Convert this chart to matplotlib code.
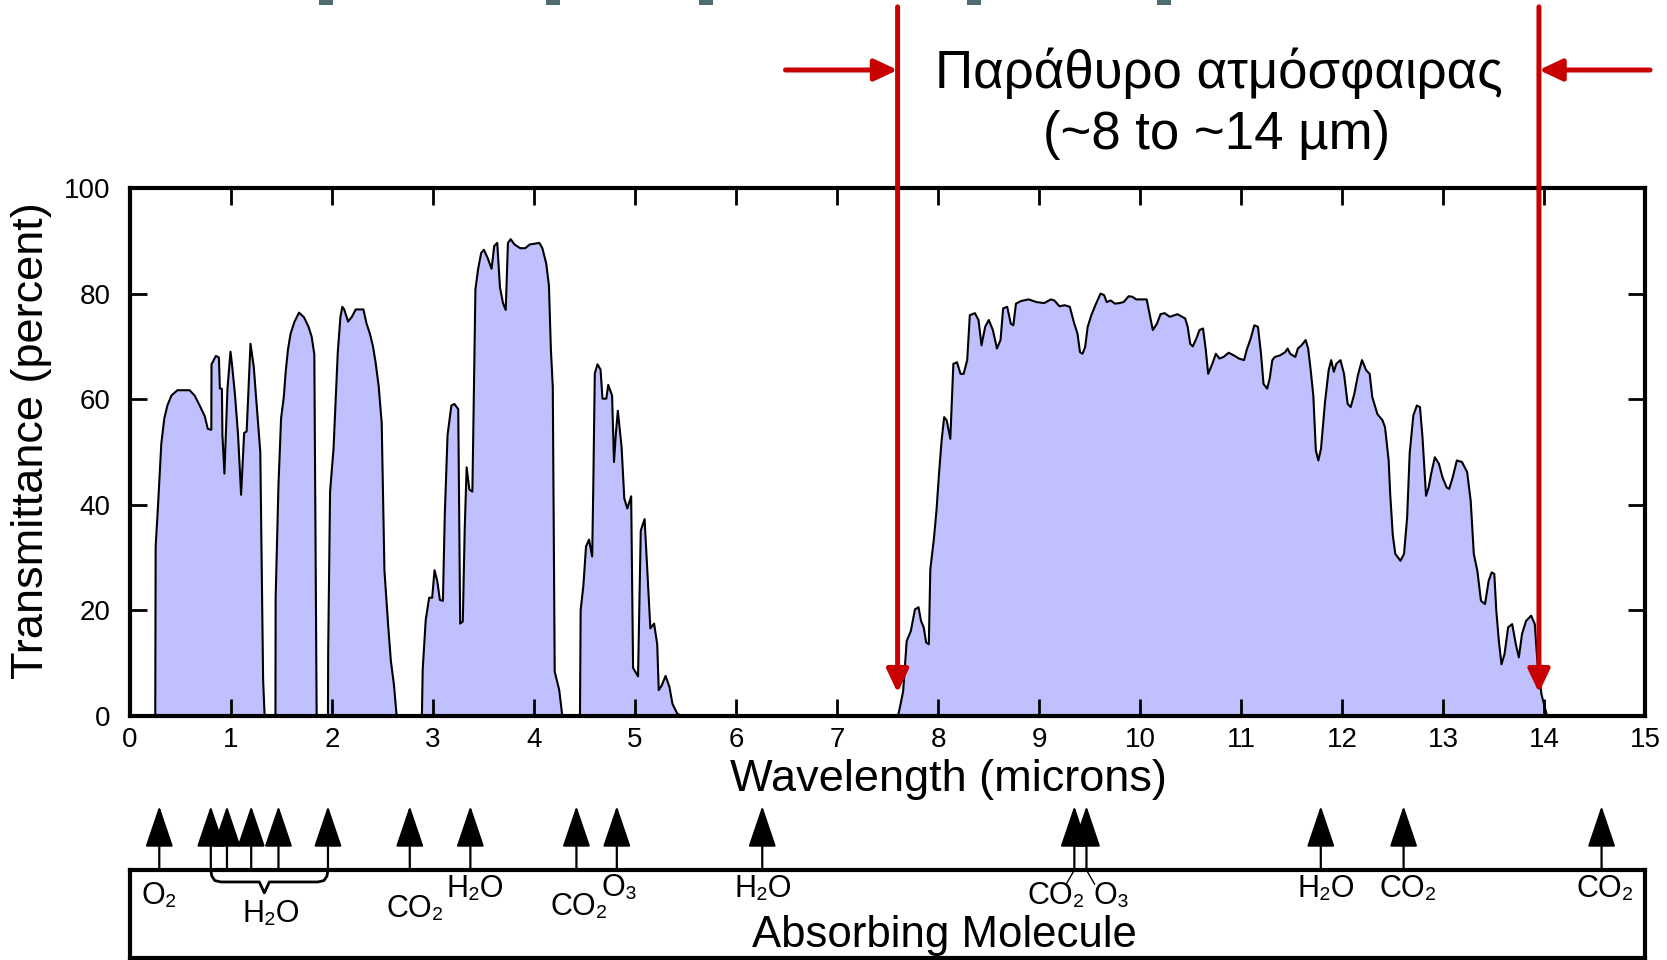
import matplotlib
matplotlib.use('Agg')
import matplotlib.pyplot as plt
from matplotlib.patches import Rectangle

plt.rcParams['font.family'] = ['Liberation Sans', 'DejaVu Sans']

# Atmospheric transmittance spectrum
wavelength = [
    0.0, 0.25, 0.254, 0.277, 0.31, 0.34, 0.37, 0.41, 0.47, 0.59, 0.64, 0.69, 0.74, 0.77, 0.805,
    0.807, 0.85, 0.88, 0.89, 0.91, 0.915, 0.935, 0.965, 0.995, 1.01, 1.04, 1.07, 1.10, 1.13,
    1.155, 1.175, 1.193, 1.225, 1.26, 1.29, 1.318, 1.333,
    1.44, 1.442, 1.47, 1.496, 1.523, 1.542, 1.564, 1.59, 1.629, 1.674, 1.723, 1.768, 1.799,
    1.825, 1.848,
    1.96, 1.962, 1.981, 2.015, 2.057, 2.083, 2.102, 2.121, 2.159, 2.197, 2.235, 2.311, 2.341,
    2.375, 2.405, 2.432, 2.462, 2.492, 2.519, 2.557, 2.583, 2.614, 2.64,
    2.89, 2.898, 2.928, 2.962, 2.992, 3.015, 3.042, 3.068, 3.098, 3.117, 3.144, 3.182, 3.212,
    3.25, 3.269, 3.295, 3.314, 3.333, 3.36, 3.39, 3.42, 3.447, 3.477, 3.504, 3.542, 3.58,
    3.606, 3.636, 3.663, 3.693, 3.72, 3.742, 3.769, 3.807, 3.864, 3.913, 3.958, 4.053, 4.083,
    4.121, 4.148, 4.167, 4.186, 4.205, 4.25, 4.28,
    4.455, 4.462, 4.489, 4.515, 4.545, 4.576, 4.587, 4.602, 4.629, 4.659, 4.678, 4.716, 4.735,
    4.773, 4.792, 4.811, 4.83, 4.867, 4.894, 4.924, 4.962, 4.981, 5.03, 5.057, 5.095, 5.125,
    5.152, 5.189, 5.22, 5.235, 5.265, 5.303, 5.341, 5.371, 5.417, 5.455,
    7.604, 7.629, 7.655, 7.69, 7.731, 7.772, 7.807, 7.832, 7.858, 7.883, 7.909, 7.924, 7.959,
    7.985, 8.01, 8.036, 8.061, 8.086, 8.122, 8.152, 8.188, 8.223, 8.254, 8.289, 8.315, 8.365,
    8.401, 8.431, 8.467, 8.503, 8.543, 8.584, 8.619, 8.645, 8.685, 8.721, 8.746, 8.772, 8.822,
    8.898, 8.975, 9.051, 9.117, 9.152, 9.203, 9.254, 9.305, 9.345, 9.381, 9.406, 9.431, 9.457,
    9.482, 9.518, 9.558, 9.609, 9.645, 9.67, 9.711, 9.751, 9.797, 9.838, 9.888, 9.924, 9.964,
    10.066, 10.091, 10.127, 10.168, 10.203, 10.244, 10.294, 10.371, 10.447, 10.472, 10.497,
    10.523, 10.558, 10.589, 10.624, 10.65, 10.675, 10.716, 10.751, 10.787, 10.827, 10.878,
    10.929, 10.98, 11.03, 11.056, 11.096, 11.132, 11.168, 11.198, 11.223, 11.259, 11.284,
    11.31, 11.335, 11.386, 11.437, 11.462, 11.487, 11.538, 11.563, 11.599, 11.64, 11.665,
    11.69, 11.716, 11.741, 11.766, 11.792, 11.832, 11.868, 11.893, 11.919, 11.944, 11.985,
    12.02, 12.056, 12.086, 12.122, 12.157, 12.198, 12.239, 12.274, 12.3, 12.35, 12.401, 12.426,
    12.462, 12.477, 12.503, 12.528, 12.579, 12.614, 12.645, 12.67, 12.706, 12.741, 12.772,
    12.797, 12.832, 12.858, 12.883, 12.919, 12.959, 12.995, 13.036, 13.061, 13.096, 13.137,
    13.188, 13.239, 13.274, 13.305, 13.34, 13.376, 13.416, 13.452, 13.482, 13.508, 13.528,
    13.553, 13.579, 13.609, 13.645, 13.685, 13.721, 13.751, 13.782, 13.822, 13.873, 13.909,
    13.934, 13.975, 14.0, 14.025, 14.03, 15.0,
]
transmittance = [
    0, 0, 32.1, 39.7, 51.6, 56.4, 58.8, 60.7, 61.7, 61.7, 60.7, 58.8, 56.8, 54.4, 54.2,
    66.6, 68.2, 67.9, 62, 62, 53.2, 45.9, 62, 69, 66.6, 60.7, 53.2, 41.9, 53.6,
    53.9, 62.5, 70.5, 66.2, 57.5, 50, 6.8, 0,
    0, 22.4, 43.8, 56.4, 60.5, 65.3, 69.4, 72.4, 74.7, 76.4, 75.5, 73.7, 71.8,
    68.5, 0,
    0, 12.1, 42.5, 50.6, 68.8, 75.5, 77.5, 77, 74.7, 75.6, 77, 77, 74.4,
    72.4, 70.1, 66.9, 62.5, 55.5, 27.6, 16.9, 10.4, 5.8, 0,
    0, 8.8, 18.2, 22.4, 22.4, 27.6, 25.6, 22, 21.8, 38.3, 53.2, 58.8, 59.1,
    58.1, 17.5, 17.9, 35.4, 47.1, 42.9, 42.5, 80.8, 84.7, 87.7, 88.3, 86.7, 84.7,
    89, 89.6, 81.2, 78.2, 76.9, 89.6, 90.3, 89.3, 88.6, 88.6, 89.3, 89.6, 88.6,
    85.7, 81.5, 69.5, 62.3, 8.4, 4.9, 0,
    0, 20.1, 24.7, 32.1, 33.4, 30.2, 43.5, 64.9, 66.6, 65.6, 60.1, 60.1, 62.7,
    60.7, 48.1, 53.6, 57.8, 51, 41.2, 39.3, 41.6, 9.1, 7.5, 35.1, 37.3, 26.3,
    16.6, 17.5, 13.6, 4.9, 5.8, 7.6, 5.5, 2.3, 0.5, 0,
    0, 2.2, 4.7, 14.2, 16.1, 20.2, 20.6, 18, 16.8, 13.9, 13.6, 27.8, 33.5,
    38.9, 45.9, 52.2, 56.6, 56, 52.5, 66.7, 67, 64.8, 64.8, 67.4, 75.9, 76.3,
    75, 70.2, 73.7, 75, 73.1, 69.6, 71.2, 77.2, 77.5, 74.3, 74, 78.1, 78.6,
    78.9, 78.4, 78.2, 78.9, 78.7, 77.6, 77.8, 77.5, 74.6, 72.4, 68.9, 68.6, 69.9,
    73.7, 75.9, 77.8, 80, 79.7, 78.4, 78.7, 78.1, 78.2, 78.4, 79.5, 79.4, 78.9,
    78.9, 76.5, 73.1, 74.3, 76.1, 76.3, 75.6, 76.1, 75.3, 73.7, 70.5,
    70, 71.5, 73.1, 73.4, 69.6, 64.8, 66.7, 68.6, 67.7, 68, 68.8,
    68.3, 67.7, 67.4, 69.3, 71.5, 74, 73.7, 68.6, 62.9, 62, 63.9,
    67.4, 68, 68.3, 68.9, 69.6, 68.6, 68, 69.6, 70.2, 71.2, 69.6,
    65.5, 60.7, 50.3, 48.4, 50.6, 59.5, 65.5, 67.4, 65.2, 66.7, 67.4,
    64.8, 59.1, 58.5, 61, 64.5, 67.4, 65.5, 64.8, 60.4, 57.2, 56, 54.7,
    48.4, 42.1, 34.2, 30.7, 29.4, 30.7, 37.6, 49.7, 56.9, 58.8, 58.5,
    52.8, 41.7, 43.3, 45.9, 49, 47.8, 45.2, 43.3, 43, 45.2, 48.4,
    48.1, 46.2, 40.8, 30.7, 27.5, 21.8, 21.2, 25.6, 27.2, 26.9, 19.9,
    14.2, 9.8, 11.7, 16.8, 17.4, 13.6, 11.1, 15.5, 18, 19, 17.4,
    10.4, 4.1, 2.2, 0.3, 0, 0,
]

# atmospheric window edges (microns)
window_edges = [7.6, 13.95]

# absorption bands marked with arrows under the plot
absorber_wavelength = [0.29, 0.8, 0.96, 1.2, 1.47, 1.96, 2.77, 3.37, 4.42, 4.82,
                       6.26, 9.35, 9.47, 11.79, 12.61, 14.57]
molecule_labels = ['O₂', 'H₂O', 'CO₂', 'H₂O', 'CO₂', 'O₃', 'H₂O', 'CO₂', 'O₃',
                   'H₂O', 'CO₂', 'CO₂']
molecule_x = [0.29, 1.4, 2.82, 3.42, 4.45, 4.85, 6.27, 9.17, 9.72, 11.84, 12.66, 14.61]
molecule_y = [0.70, 0.50, 0.557, 0.784, 0.58, 0.795, 0.784, 0.70, 0.70, 0.784, 0.784, 0.784]

W, H = 1667, 960
fig = plt.figure(figsize=(W / 100, H / 100), dpi=100)

# bits of the cut off slide title at the very top
teal = '#4f6b70'
for px in [326, 553, 706, 974, 1164]:
    fig.add_artist(Rectangle(((px - 7) / W, 1 - 5 / H), 14 / W, 5 / H,
                             transform=fig.transFigure, color=teal, lw=0))

# main transmittance panel
ax = fig.add_axes([130 / W, 1 - 716 / H, 1515 / W, 528 / H])
ax.fill_between(wavelength, transmittance, color='#c0c0ff', lw=0, zorder=1)
ax.plot(wavelength, transmittance, color='black', lw=1.5, zorder=2)
ax.set_xlim(0, 15)
ax.set_ylim(0, 100)
ax.set_xticks(range(16))
ax.set_yticks(range(0, 101, 20))
ax.tick_params(direction='in', length=12, width=2, top=True, right=True,
               labelsize=20)
ax.tick_params(axis='x', pad=8)
ax.tick_params(axis='y', pad=14)
for s in ax.spines.values():
    s.set_linewidth(3)

fig.text(948 / W, 1 - 779 / H, 'Wavelength (microns)', fontsize=32.5,
         ha='center', va='center')
fig.text(32 / W, 1 - 441 / H, 'Transmittance (percent)', fontsize=32.5,
         rotation=90, ha='center', va='center')

# red markers for the atmospheric window
red = '#c80000'
red_arrow = dict(arrowstyle='-|>,head_length=0.7,head_width=0.33',
                 mutation_scale=20, lw=3.6, color=red, shrinkA=0, shrinkB=0)
for x in window_edges:
    ax.annotate('', xy=(x, 0.044), xytext=(x, 1.343),
                xycoords=('data', 'axes fraction'),
                textcoords=('data', 'axes fraction'),
                arrowprops=red_arrow, zorder=5)
ax.annotate('', xy=(window_edges[0], 1.2235), xytext=(6.49, 1.2235),
            xycoords=('data', 'axes fraction'), textcoords=('data', 'axes fraction'),
            arrowprops=red_arrow, annotation_clip=False)
ax.annotate('', xy=(window_edges[1], 1.2235), xytext=(15.05, 1.2235),
            xycoords=('data', 'axes fraction'), textcoords=('data', 'axes fraction'),
            arrowprops=red_arrow, annotation_clip=False)
ax.text(10.78, 1.19, 'Παράθυρο ατμόσφαιρας', fontsize=38, ha='center',
        va='baseline', transform=ax.get_xaxis_transform())
ax.text(10.76, 1.073, '(~8 to ~14 µm)', fontsize=38, ha='center',
        va='baseline', transform=ax.get_xaxis_transform())

# absorbing molecule strip
ax_mol = fig.add_axes([130 / W, 1 - 958 / H, 1515 / W, 88 / H])
ax_mol.set_xlim(0, 15)
ax_mol.set_ylim(0, 1)
ax_mol.set_xticks([])
ax_mol.set_yticks([])
for s in ax_mol.spines.values():
    s.set_linewidth(3)

for x in absorber_wavelength:
    ax_mol.annotate('', xy=(x, 1.727), xytext=(x, 1.0),
                    arrowprops=dict(arrowstyle='-|>,head_length=1.3,head_width=0.44',
                                    mutation_scale=20, lw=1.6, color='black',
                                    shrinkA=0, shrinkB=0),
                    annotation_clip=False)

# brace grouping the near-infrared water bands
bx = [0.8, 0.81, 0.84, 0.9, 1.28, 1.33, 1.38, 1.86, 1.92, 1.95, 1.96]
by = [1.0, 0.93, 0.88, 0.864, 0.864, 0.74, 0.864, 0.864, 0.88, 0.93, 1.0]
ax_mol.plot(bx, by, color='black', lw=2, clip_on=False)
# small leaders to the CO2 / O3 labels near 9.6 microns
ax_mol.plot([9.35, 9.27], [1.0, 0.84], color='black', lw=1)
ax_mol.plot([9.47, 9.55], [1.0, 0.84], color='black', lw=1)

for lab, x, y in zip(molecule_labels, molecule_x, molecule_y):
    ax_mol.text(x, y, lab, fontsize=22, ha='center', va='center')
ax_mol.text(8.06, 0.125, 'Absorbing Molecule', fontsize=31.5, ha='center',
            va='baseline')

plt.savefig('out.png', dpi=100)
plt.close()
